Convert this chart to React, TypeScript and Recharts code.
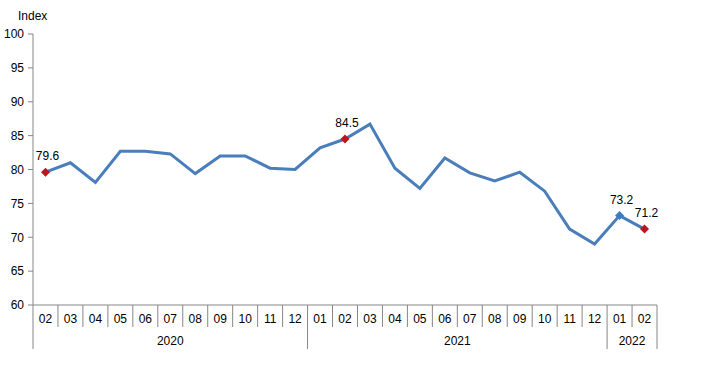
import React from 'react';
import { LineChart, Line, XAxis, YAxis, LabelList } from 'recharts';

const periods = [
  `2020-02`, `2020-03`, `2020-04`, `2020-05`, `2020-06`, `2020-07`, `2020-08`, `2020-09`, `2020-10`, `2020-11`, `2020-12`,
  `2021-01`, `2021-02`, `2021-03`, `2021-04`, `2021-05`, `2021-06`, `2021-07`, `2021-08`, `2021-09`, `2021-10`, `2021-11`, `2021-12`,
  `2022-01`, `2022-02`,
];
const values = [
  79.6, 81.0, 78.1, 82.7, 82.7, 82.3, 79.4, 82.0, 82.0, 80.2, 80.0,
  83.2, 84.5, 86.7, 80.2, 77.2, 81.7, 79.5, 78.3, 79.6, 76.8, 71.2, 69.0,
  73.2, 71.2,
];
const redMarkers = [`2020-02`, `2021-02`, `2022-02`];
const blueMarkers = [`2022-01`];
const yTicks = [60, 65, 70, 75, 80, 85, 90, 95, 100];

const W = 711;
const H = 378;
const MARGIN = { top: 34, right: 54, left: 0, bottom: 0 };
const Y_WIDTH = 33;
const BAND = (W - MARGIN.left - MARGIN.right - Y_WIDTH) / periods.length;
const FONT = `"Liberation Sans", Arial, sans-serif`;
const AXIS = `#868686`;
const LINE = `#4A7EBB`;

const data = periods.map((p, i) => ({ period: p, value: values[i] }));

const yearOf = (p) => p.slice(0, 4);
const monthOf = (p) => p.slice(5);

// month row + year row, drawn as a little table under the axis
const MonthTick = (props) => {
  const { x, y, payload } = props;
  const i = payload.index;
  const p = periods[i];
  const yr = yearOf(p);
  const first = i === 0 || yearOf(periods[i - 1]) !== yr;
  const last = i === periods.length - 1;
  const count = periods.filter((q) => yearOf(q) === yr).length;
  const half = BAND / 2;
  return (
    <g>
      <text x={x} y={y + 18} textAnchor="middle" fontSize={12} fontFamily={FONT} fill="#000">
        {monthOf(p)}
      </text>
      <line x1={x - half} x2={x - half} y1={y} y2={first ? y + 44 : y + 22} stroke={AXIS} />
      {last && <line x1={x + half} x2={x + half} y1={y} y2={y + 44} stroke={AXIS} />}
      {first && (
        <text x={x - half + (count * BAND) / 2} y={y + 40} textAnchor="middle" fontSize={12} fontFamily={FONT} fill="#000">
          {yr}
        </text>
      )}
    </g>
  );
};

const Dot = (props) => {
  const { cx, cy, payload } = props;
  const red = redMarkers.includes(payload.period);
  const blue = blueMarkers.includes(payload.period);
  if (!red && !blue) return <g key={payload.period} />;
  const r = 4.5;
  return (
    <path
      key={payload.period}
      d={`M${cx},${cy - r}L${cx + r},${cy}L${cx},${cy + r}L${cx - r},${cy}Z`}
      fill={red ? `#C0141C` : `#3B7CC4`}
    />
  );
};

const PointLabel = (props) => {
  const { x, y, value, index } = props;
  const p = periods[index];
  if (!redMarkers.includes(p) && !blueMarkers.includes(p)) return null;
  return (
    <text x={x + 2} y={y - 12} textAnchor="middle" fontSize={12} fontFamily={FONT} fill="#000">
      {value.toFixed(1)}
    </text>
  );
};

const App = () => {
  return (
    <div style={{ position: `absolute`, left: 0, top: 0, width: W, height: H, background: `#fff` }}>
      <LineChart width={W} height={H} data={data} margin={MARGIN}>
        <XAxis
          dataKey="period"
          interval={0}
          padding={{ left: BAND / 2, right: BAND / 2 }}
          tickLine={false}
          tickSize={0}
          tickMargin={0}
          height={73}
          axisLine={{ stroke: AXIS }}
          tick={<MonthTick />}
        />
        <YAxis
          domain={[60, 100]}
          ticks={yTicks}
          width={Y_WIDTH}
          tickSize={5}
          tickMargin={4}
          axisLine={{ stroke: AXIS }}
          tickLine={{ stroke: AXIS }}
          tick={{ fontSize: 12, fontFamily: FONT, fill: `#000` }}
          label={{ value: `Index`, position: `top`, offset: 0, content: () => (
            <text x={18} y={20} fontSize={12} fontFamily={FONT} fill="#000">Index</text>
          ) }}
        />
        <Line
          type="linear"
          dataKey="value"
          stroke={LINE}
          strokeWidth={3}
          dot={<Dot />}
          activeDot={false}
          isAnimationActive={false}
        >
          <LabelList dataKey="value" content={<PointLabel />} />
        </Line>
      </LineChart>
    </div>
  );
};

export default App;
